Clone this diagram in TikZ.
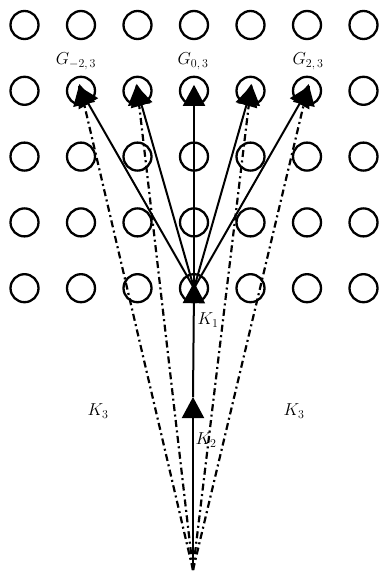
\documentclass[tikz,border=0pt]{standalone}
\usetikzlibrary{arrows.meta}
\begin{document}
\begin{tikzpicture}[x=1pt,y=-1pt,
  ring/.style={circle,draw,line width=2.3pt,minimum size=28pt,inner sep=0pt},
  lab/.style={font=\LARGE,inner sep=0pt},
  solidarrow/.style={line width=2pt,-{Triangle[length=21pt,width=22pt]}},
  dasharrow/.style={line width=2.2pt,dash pattern=on 7pt off 3.5pt on 2pt off 3.5pt,-{Triangle[length=21pt,width=22pt]}}]
\useasboundingbox (0,0) rectangle (382,575);
\foreach \i in {0,...,6}{
  \foreach \j in {0,...,4}{
    \node[ring] (c\i\j) at ({24.5+56.5*\i},{25+65.8*\j}) {};
  }
}
\coordinate (O) at (193,570);
\coordinate (K2) at (193,397);
% dash-dot rays from origin
\foreach \i in {1,2,4,5}{
  \draw[dasharrow,shorten >=-7pt] (O) -- (c\i1.center);
}
% main ray
\draw[solidarrow] (O) -- (K2);
\draw[solidarrow,shorten >=-6pt] (K2) -- (c34.center);
% solid rays from K1
\foreach \i in {1,...,5}{
  \draw[solidarrow,shorten >=-6pt] (c34.center) -- (c\i1.center);
}
% labels
\node[lab] (g1) at (76,61) {$G_{-2,\,3}$};
\node[lab] (g0) at (193,61) {$G_{0,\,3}$};
\node[lab] (g2) at (308,61) {$G_{2,\,3}$};
\node[lab] (k1) at (208,320) {$K_1$};
\node[lab] (k2) at (206,440) {$K_2$};
\node[lab] (k3a) at (98,411) {$K_3$};
\node[lab] (k3b) at (294,411) {$K_3$};
\end{tikzpicture}
\end{document}
